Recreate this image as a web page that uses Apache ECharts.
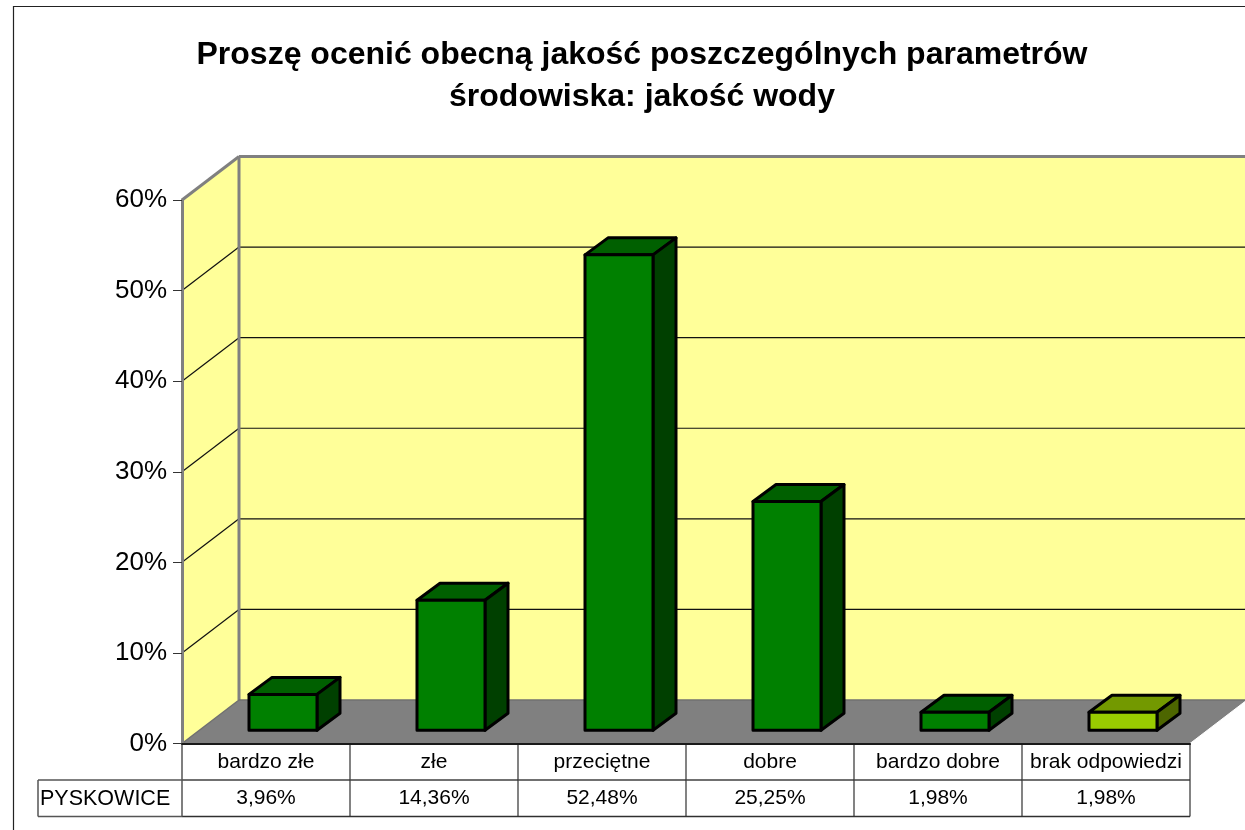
<!DOCTYPE html>
<html>
<head>
<meta charset="utf-8">
<title>jakość wody</title>
<script src="https://cdn.jsdelivr.net/npm/echarts@6/dist/echarts.min.js"></script>
<style>
  html, body { margin: 0; padding: 0; background: #fff; overflow: hidden; }
  #chart { width: 1245px; height: 830px; }
</style>
</head>
<body>
<div id="chart"></div>
<script>
const categories = ['bardzo złe', 'złe', 'przeciętne', 'dobre', 'bardzo dobre', 'brak odpowiedzi']
const pyskowice = [3.96, 14.36, 52.48, 25.25, 1.98, 1.98]
const yTicks = [0, 10, 20, 30, 40, 50, 60]
const rowName = 'PYSKOWICE'
const titleLines = ['Proszę ocenić obecną jakość poszczególnych parametrów', 'środowiska: jakość wody']

const FONT = '"Liberation Sans", Arial, sans-serif'
// fake 3d: how far the back wall / the bar depth is shifted from the front plane
const WALL_DX = 57, WALL_DY = -43.5
const BAR_DX = 23, BAR_DY = -17
const BAR_W = 68
const ROW_H = 36.5
const HEAD_W = 144

const myChart = echarts.init(document.getElementById('chart'))

function poly(points, fill, stroke, width) {
  return {
    type: 'polygon',
    shape: { points: points },
    style: { fill: fill, stroke: stroke || null, lineWidth: width || 0, lineJoin: 'round' }
  }
}
function line(x1, y1, x2, y2, color, width) {
  return {
    type: 'line',
    shape: { x1: x1, y1: y1, x2: x2, y2: y2 },
    style: { stroke: color, lineWidth: width }
  }
}

// walls, floor and the grid lines on them
function renderWalls(params, api) {
  const band = api.size([1, 0])[0]
  const x0 = api.coord([0, 0])[0] - band / 2
  const x1 = api.coord([categories.length - 1, 0])[0] + band / 2
  const y0 = api.coord([0, 0])[1]
  const yTop = api.coord([0, yTicks[yTicks.length - 1]])[1]
  const kids = [
    poly([[x0, y0], [x0 + WALL_DX, y0 + WALL_DY], [x0 + WALL_DX, yTop + WALL_DY], [x0, yTop]], '#ffff99'),
    poly([[x0 + WALL_DX, y0 + WALL_DY], [x1 + WALL_DX, y0 + WALL_DY], [x1 + WALL_DX, yTop + WALL_DY], [x0 + WALL_DX, yTop + WALL_DY]], '#ffff99'),
    poly([[x0, y0], [x1, y0], [x1 + WALL_DX, y0 + WALL_DY], [x0 + WALL_DX, y0 + WALL_DY]], '#808080')
  ]
  yTicks.slice(1, -1).forEach(function (t) {
    const y = api.coord([0, t])[1]
    kids.push(line(x0, y, x0 + WALL_DX, y + WALL_DY, '#111', 1.2))
    kids.push(line(x0 + WALL_DX, y + WALL_DY, x1 + WALL_DX, y + WALL_DY, '#111', 1.2))
  })
  kids.push(line(x0, yTop, x0 + WALL_DX, yTop + WALL_DY, '#808080', 3))
  kids.push(line(x0 + WALL_DX, yTop + WALL_DY, x1 + WALL_DX, yTop + WALL_DY, '#808080', 3))
  kids.push(line(x0 + WALL_DX, yTop + WALL_DY, x0 + WALL_DX, y0 + WALL_DY, '#808080', 3))
  kids.push(line(x0, y0, x0 + WALL_DX, y0 + WALL_DY, '#707070', 1.5))
  kids.push(line(x0 + WALL_DX, y0 + WALL_DY, x1 + WALL_DX, y0 + WALL_DY, '#707070', 1.5))
  kids.push(line(x1, y0, x1 + WALL_DX, y0 + WALL_DY, '#ffffff', 1))
  return { type: 'group', children: kids }
}

function renderBar(params, api) {
  const base = api.coord([api.value(0), 0])
  const top = api.coord([api.value(0), api.value(1)])
  const offX = (WALL_DX - BAR_DX) / 2, offY = (WALL_DY - BAR_DY) / 2
  const l = base[0] - BAR_W / 2 + offX, r = l + BAR_W
  const b = base[1] + offY, t = top[1] + offY
  const last = params.dataIndex === categories.length - 1
  const front = last ? '#99cc00' : '#008000'
  const roof = last ? '#739900' : '#006000'
  const side = last ? '#4d6600' : '#004000'
  return {
    type: 'group',
    children: [
      poly([[l, t], [r, t], [r + BAR_DX, t + BAR_DY], [l + BAR_DX, t + BAR_DY]], roof, '#000', 3),
      poly([[r, t], [r + BAR_DX, t + BAR_DY], [r + BAR_DX, b + BAR_DY], [r, b]], side, '#000', 3),
      poly([[l, b], [r, b], [r, t], [l, t]], front, '#000', 3)
    ]
  }
}

// data table under the plot, the first row text is the category axis
function renderTable(params, api) {
  const band = api.size([1, 0])[0]
  const c = api.coord([api.value(0), 0])
  const l = c[0] - band / 2, r = c[0] + band / 2
  const y0 = c[1], y1 = y0 + ROW_H, y2 = y1 + ROW_H
  const kids = [
    line(l, y1, r, y1, '#404040', 1.5),
    line(l, y2, r, y2, '#303030', 1.5),
    line(r, y0, r, y2, '#303030', 1.2),
    {
      type: 'text',
      style: {
        x: c[0], y: y1 + ROW_H / 2,
        text: api.value(1).toFixed(2).replace('.', ',') + '%',
        font: '21px ' + FONT, fill: '#000', align: 'center', verticalAlign: 'middle'
      }
    }
  ]
  if (params.dataIndex === 0) {
    kids.push(line(l, y0, l, y2, '#555', 1.5))
    kids.push(line(l - HEAD_W, y1, l, y1, '#555', 1.5))
    kids.push(line(l - HEAD_W, y2, l, y2, '#555', 1.5))
    kids.push(line(l - HEAD_W, y1, l - HEAD_W, y2, '#555', 1.5))
    kids.push({
      type: 'text',
      style: {
        x: l - HEAD_W + 2, y: y1 + ROW_H / 2 + 1,
        text: rowName,
        font: '21.5px ' + FONT, fill: '#000', align: 'left', verticalAlign: 'middle'
      }
    })
  }
  return { type: 'group', children: kids }
}

myChart.setOption({
  animation: false,
  backgroundColor: '#ffffff',
  title: {
    text: titleLines.join('\n'),
    left: 637,
    top: 29,
    textAlign: 'center',
    textStyle: {
      fontFamily: FONT,
      fontSize: 32,
      fontWeight: 'bold',
      lineHeight: 42,
      color: '#000'
    }
  },
  // outer frame, runs off the right and bottom of the page
  graphic: [{
    type: 'rect',
    z: -1,
    shape: { x: 13.5, y: 6.5, width: 1400, height: 1000 },
    style: { fill: null, stroke: '#222', lineWidth: 1.2 }
  }],
  grid: { left: 182, top: 200, width: 1008, height: 543.5 },
  xAxis: {
    type: 'category',
    data: categories,
    z: 6,
    axisTick: { show: false },
    axisLine: { lineStyle: { color: '#1a1a1a', width: 2 } },
    axisLabel: { fontFamily: FONT, fontSize: 21, color: '#000', margin: 8, interval: 0 }
  },
  yAxis: {
    type: 'value',
    min: 0,
    max: 60,
    interval: 10,
    z: 6,
    splitLine: { show: false },
    axisLine: { show: true, lineStyle: { color: '#808080', width: 3 } },
    axisTick: { show: true, length: 9, lineStyle: { color: '#333', width: 1 } },
    axisLabel: { fontFamily: FONT, fontSize: 26, color: '#000', margin: 15, padding: [2, 0, 0, 0], formatter: '{value}%' }
  },
  series: [
    {
      type: 'custom',
      name: 'walls',
      z: 1,
      clip: false,
      silent: true,
      renderItem: renderWalls,
      data: [[0, 0]]
    },
    {
      type: 'custom',
      name: 'PYSKOWICE',
      z: 3,
      clip: false,
      renderItem: renderBar,
      encode: { x: 0, y: 1 },
      data: pyskowice.map(function (v, i) { return [i, v] })
    },
    {
      type: 'custom',
      name: 'table',
      z: 2,
      clip: false,
      silent: true,
      renderItem: renderTable,
      data: pyskowice.map(function (v, i) { return [i, v] })
    }
  ]
})
</script>
</body>
</html>
